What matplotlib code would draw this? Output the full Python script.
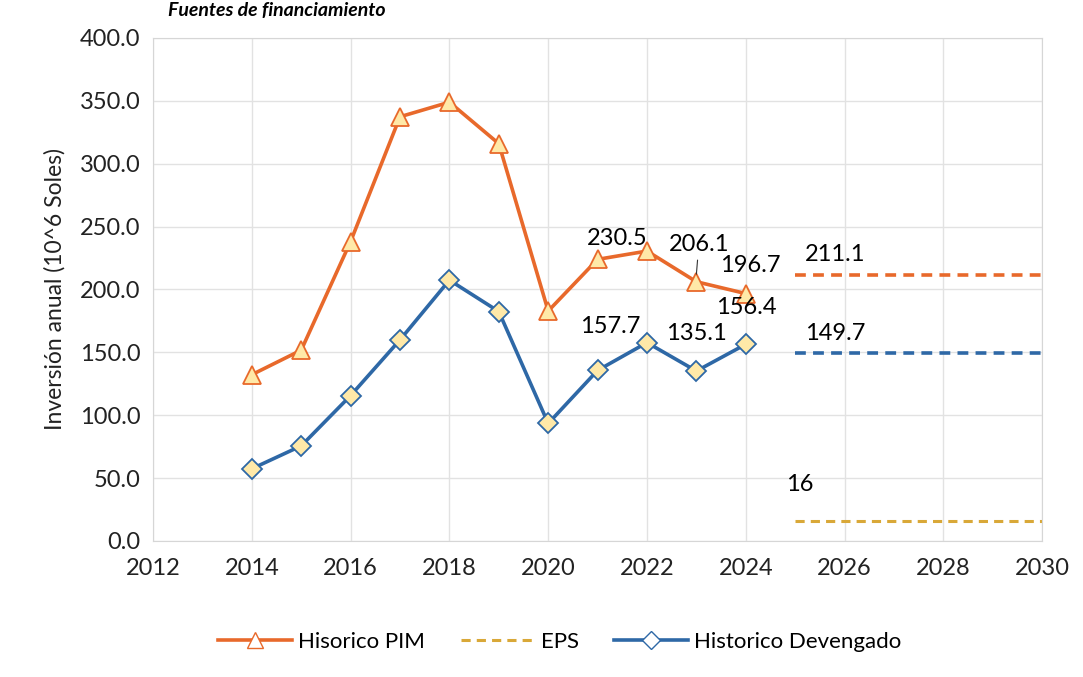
import matplotlib.pyplot as plt
from matplotlib.lines import Line2D

plt.rcParams['font.family'] = ['Lato', 'DejaVu Sans']

# historical data
years_hist = [2014, 2015, 2016, 2017, 2018, 2019, 2020, 2021, 2022, 2023, 2024]
pim = [132.2, 151.7, 238.1, 337.3, 348.9, 315.9, 182.8, 223.9, 230.5, 206.1, 196.7]
devengado = [57.4, 75.6, 115.6, 159.9, 207.4, 182.4, 93.4, 135.6, 157.7, 135.1, 156.4]

# projections
years_proj = [2025, 2026, 2027, 2028, 2029, 2030]
pim_proj = [211.1, 211.1, 211.1, 211.1, 211.1, 211.1]
dev_proj = [149.7, 149.7, 149.7, 149.7, 149.7, 149.7]
eps_proj = [16, 16, 16, 16, 16, 16]

c_pim = '#E8692B'
c_dev = '#2E68A6'
c_eps = '#D9A838'
face = '#FFE9A8'

fig = plt.figure(figsize=(10.83, 6.77), dpi=100)
ax = fig.add_axes([0.1413, 0.201, 0.821, 0.743])

ax.plot(years_hist, pim, color=c_pim, lw=2.6, marker='^', ms=13,
        mfc=face, mec=c_pim, mew=1.3, zorder=3)
ax.plot(years_hist, devengado, color=c_dev, lw=2.6, marker='D', ms=10,
        mfc=face, mec=c_dev, mew=1.3, zorder=3)
ax.plot(years_proj, pim_proj, color=c_pim, lw=2.6, ls=(0, (3, 2)), zorder=2)
ax.plot(years_proj, dev_proj, color=c_dev, lw=2.6, ls=(0, (3, 2)), zorder=2)
ax.plot(years_proj, eps_proj, color=c_eps, lw=2.2, ls=(0, (3, 2)), zorder=2)

# data labels
fs = 17
ax.text(2021.4, pim[8] + 10, f'{pim[8]}', ha='center', va='center', fontsize=fs)
ax.annotate(f'{pim[9]}', xy=(2023.0, pim[9] + 6), xytext=(2023.05, pim[9] + 30),
            ha='center', va='center', fontsize=fs,
            arrowprops=dict(arrowstyle='-', color='#333333', lw=0.8, shrinkB=0))
ax.text(2024.1, pim[10] + 22, f'{pim[10]}', ha='center', va='center', fontsize=fs)
ax.text(2024.0, devengado[10] + 29, f'{devengado[10]}', ha='center', va='center', fontsize=fs)
ax.text(2021.25, devengado[8] + 13, f'{devengado[8]}', ha='center', va='center', fontsize=fs)
ax.text(2023.0, devengado[9] + 30, f'{devengado[9]}', ha='center', va='center', fontsize=fs)
ax.text(2025.8, pim_proj[0] + 17, f'{pim_proj[0]}', ha='center', va='center', fontsize=fs)
ax.text(2025.8, dev_proj[0] + 15, f'{dev_proj[0]}', ha='center', va='center', fontsize=fs)
ax.text(2025.1, eps_proj[0] + 29, f'{eps_proj[0]}', ha='center', va='center', fontsize=fs)

ax.set_xlim(2012, 2030)
ax.set_ylim(0, 400)
ax.set_xticks(range(2012, 2031, 2))
ax.set_yticks(range(0, 401, 50))
ax.set_yticklabels([f'{v:.1f}' for v in range(0, 401, 50)])
ax.tick_params(length=0, labelsize=17, colors='#222222')
ax.tick_params(axis='x', pad=12)
ax.tick_params(axis='y', pad=9)
ax.grid(True, color='#E2E2E2', lw=1)
ax.set_axisbelow(True)
for s in ax.spines.values():
    s.set_color('#D6D6D6')
ax.set_ylabel('Inversión anual (10^6 Soles)', fontsize=16.5, color='#222222', labelpad=10)

handles = [
    Line2D([], [], color=c_pim, lw=2.6, marker='^', ms=12, mfc='white', mec=c_pim),
    Line2D([], [], color=c_eps, lw=2.2, ls=(0, (3, 2))),
    Line2D([], [], color=c_dev, lw=2.6, marker='D', ms=9, mfc='white', mec=c_dev),
]
fig.legend(handles, ['Hisorico PIM', 'EPS', 'Historico Devengado'],
           loc='center', bbox_to_anchor=(0.517, 0.052), ncol=3, frameon=False,
           fontsize=16, handlelength=3.3, handletextpad=0.3, columnspacing=1.6)

fig.text(0.155, 0.997, 'Fuentes de financiamiento', fontsize=14,
         fontweight='bold', fontstyle='italic', va='top', ha='left')

fig.savefig('out.png', dpi=100)
